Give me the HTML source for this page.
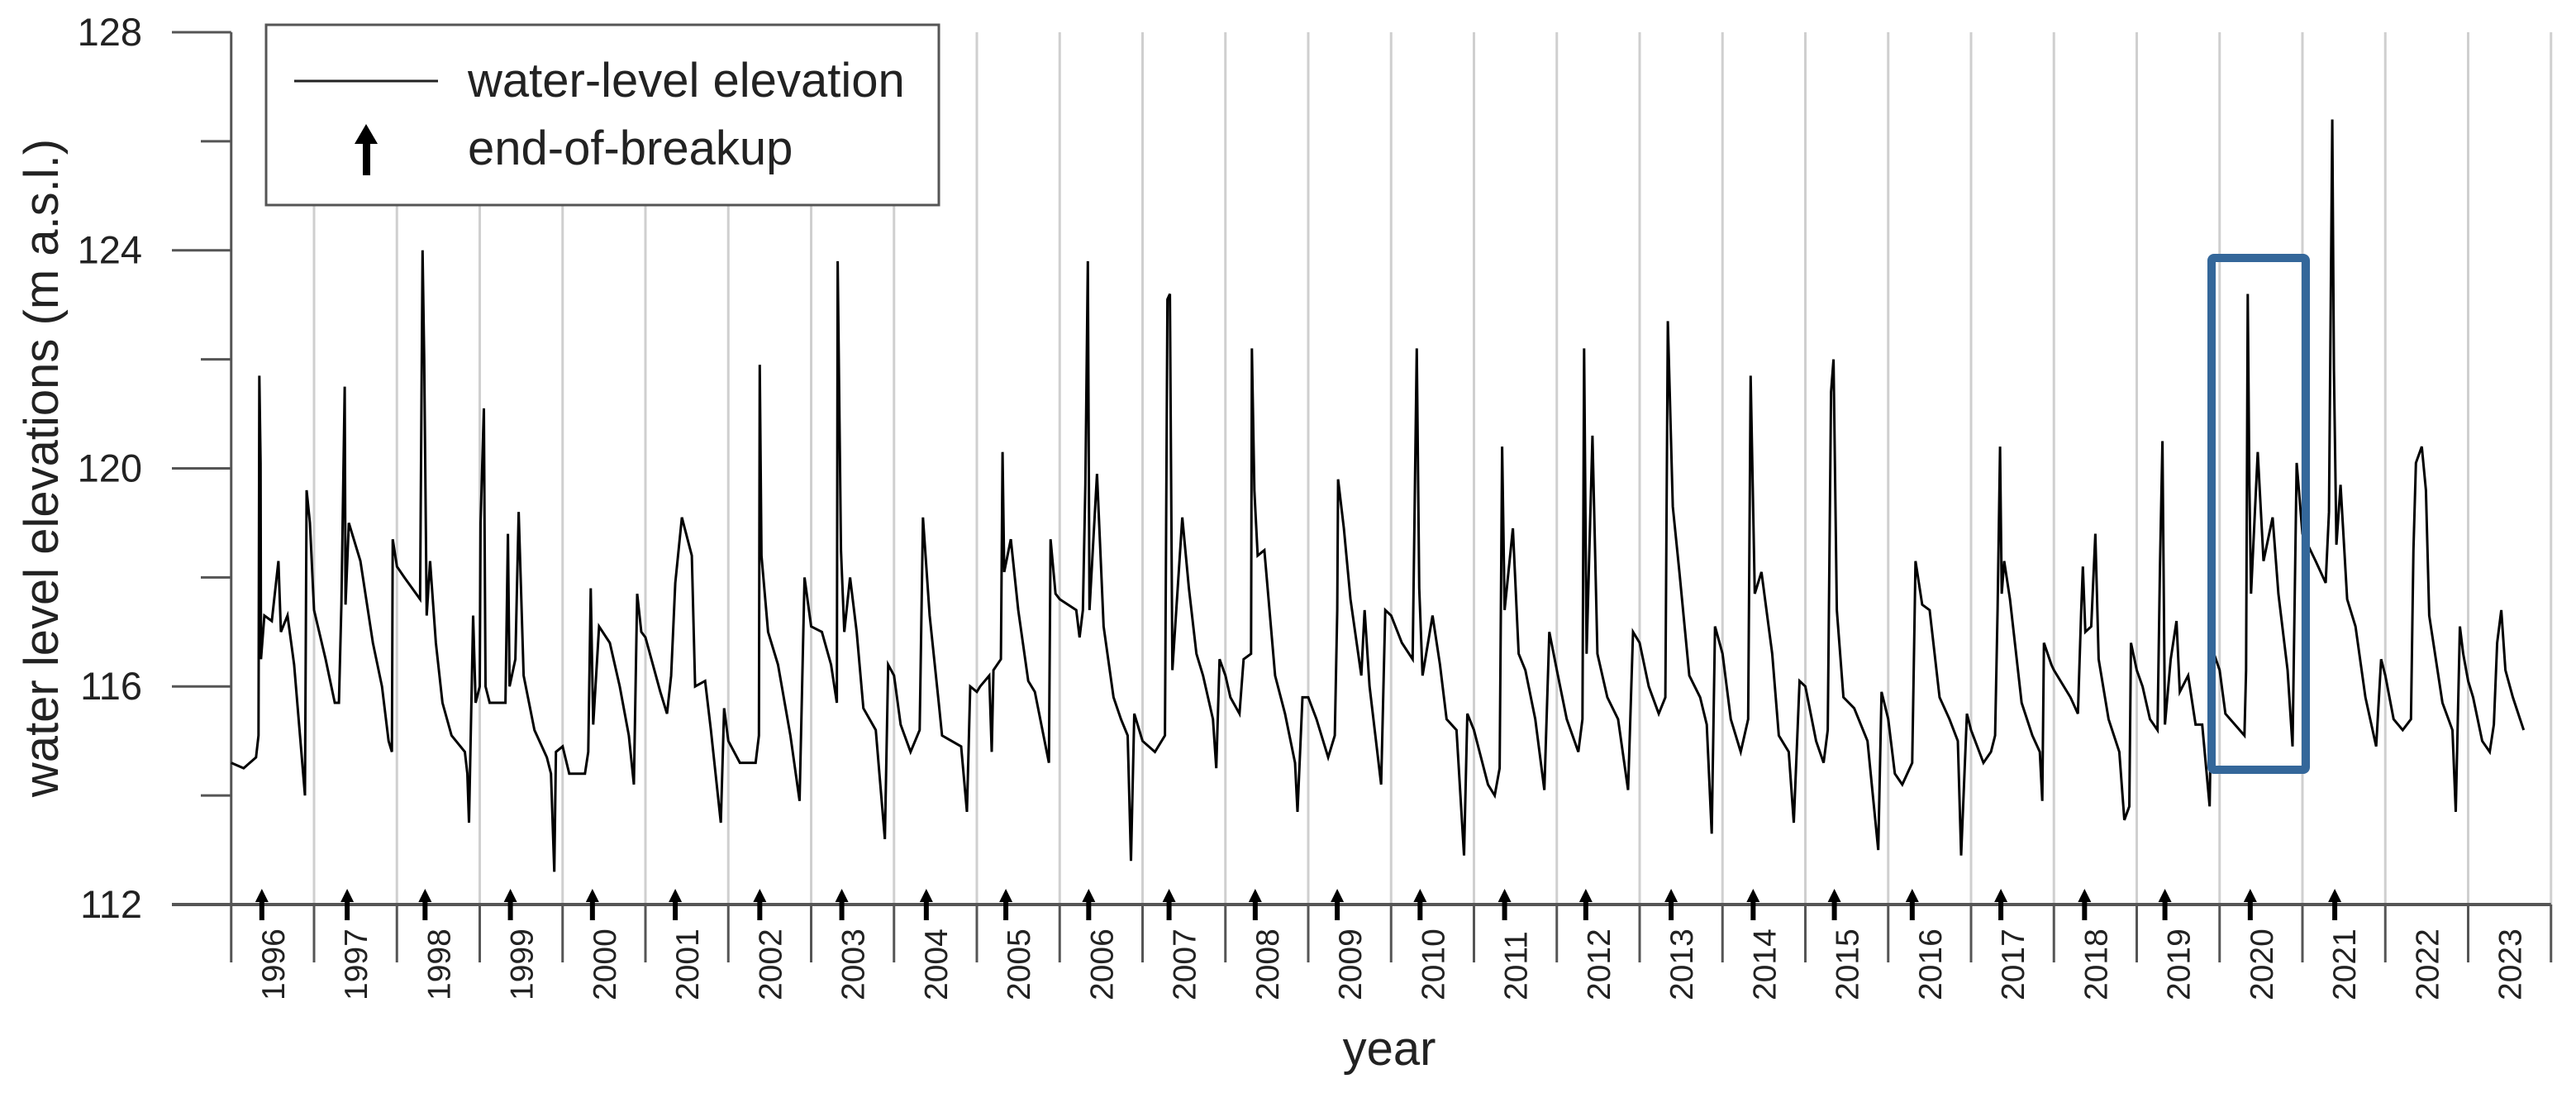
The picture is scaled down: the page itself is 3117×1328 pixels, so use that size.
<!DOCTYPE html>
<html><head><meta charset="utf-8"><style>
html,body{margin:0;padding:0;background:#fff;}
svg{display:block;font-family:"Liberation Sans",Arial,sans-serif;}
</style></head><body>
<svg id="chart" width="3117" height="1328" viewBox="0 0 3117 1328" xmlns="http://www.w3.org/2000/svg">
<g id="grid"></g>
<g id="axes"></g>
<g id="series"></g>
<g id="arrows"></g>
<rect x="2676" y="312" width="114" height="619" rx="3" fill="none" stroke="#34679a" stroke-width="10"/>
<g>
<rect x="322" y="30" width="814" height="218" fill="#fff" stroke="#555" stroke-width="3"/>
<line x1="356" y1="98" x2="530" y2="98" stroke="#222" stroke-width="3"/>
<text x="566" y="117" font-size="58" fill="#222">water-level elevation</text>
<g>
<rect x="439" y="168" width="9" height="44" fill="#000"/>
<polygon points="443,150 429,174 457,174" fill="#000"/>
</g>
<text x="566" y="199" font-size="58" fill="#222">end-of-breakup</text>
</g>
<text transform="translate(70,566) rotate(-90)" text-anchor="middle" font-size="58" fill="#222">water level elevations (m a.s.l.)</text>
<text x="1681" y="1288" text-anchor="middle" font-size="58" fill="#222">year</text>
</svg>
<script>
const yTicks = [112, 116, 120, 124, 128];
const yMinorTicks = [114, 118, 122, 126];
const yearLabels = [1996,1997,1998,1999,2000,2001,2002,2003,2004,2005,2006,2007,2008,2009,2010,2011,2012,2013,2014,2015,2016,2017,2018,2019,2020,2021,2022,2023];
const breakupDates = [1996.37,1997.4,1998.34,1999.37,2000.36,2001.36,2002.38,2003.37,2004.39,2005.35,2006.35,2007.32,2008.36,2009.35,2010.35,2011.37,2012.35,2013.38,2014.37,2015.35,2016.29,2017.36,2018.37,2019.34,2020.37,2021.39];
const obsFrac = [
[0,0.15,0.3,0.33,0.34,0.355,0.36,0.4,0.49,0.57,0.6,0.68,0.76,0.83,0.89,0.91,0.95],
[0,0.14,0.25,0.3,0.33,0.37,0.38,0.42,0.56,0.71,0.82,0.9,0.94,0.95],
[0,0.09,0.28,0.31,0.33,0.36,0.4,0.47,0.55,0.66,0.82,0.85,0.87,0.92,0.95],
[0,0.01,0.05,0.07,0.12,0.31,0.34,0.36,0.43,0.47,0.53,0.66,0.81,0.86,0.9,0.92],
[0,0.08,0.27,0.31,0.34,0.37,0.44,0.57,0.69,0.8,0.86,0.9,0.95],
[0,0.18,0.26,0.31,0.36,0.44,0.56,0.6,0.72,0.79,0.91,0.95],
[0,0.14,0.33,0.37,0.38,0.4,0.48,0.6,0.75,0.86,0.92],
[0,0.13,0.24,0.31,0.32,0.36,0.4,0.47,0.55,0.63,0.78,0.89,0.93],
[0,0.08,0.2,0.31,0.35,0.43,0.54,0.58,0.81,0.88,0.92],
[0,0.04,0.15,0.18,0.2,0.29,0.31,0.33,0.41,0.5,0.62,0.7,0.87,0.89,0.95],
[0,0.2,0.24,0.28,0.31,0.34,0.36,0.45,0.53,0.65,0.74,0.82,0.86,0.9],
[0,0.15,0.27,0.3,0.33,0.36,0.48,0.56,0.65,0.73,0.85,0.89,0.93],
[0,0.06,0.17,0.22,0.31,0.32,0.35,0.39,0.47,0.6,0.72,0.84,0.87,0.93],
[0,0.1,0.24,0.32,0.35,0.36,0.43,0.51,0.64,0.68,0.74,0.88,0.93],
[0,0.13,0.26,0.31,0.34,0.38,0.5,0.59,0.67,0.79,0.88,0.92],
[0,0.17,0.25,0.31,0.34,0.37,0.47,0.54,0.62,0.74,0.85,0.91],
[0,0.12,0.26,0.31,0.33,0.36,0.43,0.49,0.61,0.74,0.86,0.92],
[0,0.11,0.23,0.31,0.34,0.4,0.48,0.6,0.73,0.81,0.87,0.91],
[0,0.1,0.22,0.31,0.34,0.39,0.47,0.6,0.68,0.8,0.86,0.93],
[0,0.13,0.22,0.27,0.31,0.34,0.38,0.46,0.59,0.75,0.88,0.92],
[0,0.08,0.17,0.29,0.33,0.41,0.5,0.62,0.74,0.84,0.88,0.95],
[0,0.15,0.24,0.29,0.32,0.35,0.37,0.4,0.47,0.61,0.74,0.83,0.86,0.88,0.97],
[0,0.2,0.29,0.33,0.35,0.38,0.45,0.5,0.54,0.66,0.79,0.85,0.91,0.93],
[0,0.07,0.16,0.25,0.28,0.31,0.34,0.41,0.48,0.52,0.62,0.71,0.79,0.88,0.91],
[0,0.07,0.3,0.32,0.34,0.36,0.38,0.46,0.53,0.64,0.71,0.82,0.88,0.93],
[0,0.16,0.28,0.32,0.36,0.38,0.41,0.46,0.54,0.64,0.76,0.89,0.95],
[0,0.1,0.21,0.31,0.34,0.37,0.44,0.49,0.53,0.69,0.81,0.85,0.9,0.94],
[0,0.06,0.17,0.26,0.31,0.35,0.4,0.45,0.54,0.67]
];
const obsLevel = [
[114.6,114.5,114.7,115.1,121.7,120.1,116.5,117.3,117.2,118.3,117,117.3,116.4,115.1,114,119.6,119],
[117.4,116.5,115.7,115.7,117.5,121.5,117.5,119,118.3,116.8,116,115,114.8,118.7],
[118.2,118,117.6,124,122,117.3,118.3,116.8,115.7,115.1,114.8,114.4,113.5,117.3,115.7],
[116,119,121.1,116,115.7,115.7,118.8,116,116.5,119.2,116.2,115.2,114.7,114.4,112.6,114.8],
[114.9,114.4,114.4,114.8,117.8,115.3,117.1,116.8,116,115.1,114.2,117.7,117],
[116.9,115.9,115.5,116.2,117.9,119.1,118.4,116,116.1,115.2,113.5,115.6],
[115,114.6,114.6,115.1,121.9,118.4,117,116.4,115.1,113.9,118],
[117.1,117,116.4,115.7,123.8,118.5,117,118,117,115.6,115.2,113.2,116.4],
[116.2,115.3,114.8,115.2,119.1,117.3,115.7,115.1,114.9,113.7,116],
[115.9,116,116.2,114.8,116.3,116.5,120.3,118.1,118.7,117.4,116.1,115.9,114.6,118.7,117.7],
[117.6,117.4,116.9,117.4,119.7,123.8,117.4,119.9,117.1,115.8,115.4,115.1,112.8,115.5],
[115,114.8,115.1,123.1,123.2,116.3,119.1,117.8,116.6,116.2,115.4,114.5,116.5],
[116.2,115.8,115.5,116.5,116.6,122.2,119.6,118.4,118.5,116.2,115.5,114.6,113.7,115.8],
[115.8,115.4,114.7,115.1,117.4,119.8,118.9,117.6,116.2,117.4,116,114.2,117.4],
[117.3,116.8,116.5,122.2,117.8,116.2,117.3,116.4,115.4,115.2,112.9,115.5],
[115.2,114.2,114,114.5,120.4,117.4,118.9,116.6,116.3,115.4,114.1,117],
[116.3,115.4,114.8,115.4,122.2,116.6,120.6,116.6,115.8,115.4,114.1,117],
[116.8,116,115.5,115.8,122.7,119.3,118.1,116.2,115.8,115.3,113.3,117.1],
[116.6,115.4,114.8,115.4,121.7,117.7,118.1,116.6,115.1,114.8,113.5,116.1],
[116,115,114.6,115.2,121.4,122,117.4,115.8,115.6,115,113,115.9],
[115.4,114.4,114.2,114.6,118.3,117.5,117.4,115.8,115.4,115,112.9,115.5],
[115.2,114.6,114.8,115.1,117.4,120.4,117.7,118.3,117.6,115.7,115.1,114.8,113.9,116.8,116.4],
[116.3,115.8,115.5,117.4,118.2,117,117.1,118.8,116.5,115.4,114.8,113.55,113.8,116.8],
[116.3,116,115.4,115.2,118.2,120.5,115.3,116.5,117.2,115.9,116.2,115.3,115.3,113.8,116.7],
[116.3,115.5,115.1,116.3,123.2,119.7,117.7,120.3,118.3,119.1,117.7,116.3,114.9,120.1],
[118.8,118.3,117.9,119.2,126.4,121.8,118.6,119.7,117.6,117.1,115.8,114.9,116.5],
[116.2,115.4,115.2,115.4,118.5,120.1,120.4,119.6,117.3,115.7,115.2,113.7,117.1,116.6],
[116.1,115.8,115,114.8,115.3,116.8,117.4,116.3,115.8,115.2]
];

const NS = 'http://www.w3.org/2000/svg';
const X0 = 279.75, YW = 100.25, Y0 = 1094, YU = 65.94;
function xScale(yr){ return X0 + (yr - yearLabels[0]) * YW; }
function yScale(v){ return Y0 - (v - yTicks[0]) * YU; }
function mk(tag, attrs, parent){ const e = document.createElementNS(NS, tag); for (const k in attrs) e.setAttribute(k, attrs[k]); parent.appendChild(e); return e; }

const grid = document.getElementById('grid');
const axes = document.getElementById('axes');
const yTop = yScale(yTicks[yTicks.length-1]);
const lastYear = yearLabels[yearLabels.length-1] + 1;

for (let yr = yearLabels[0]; yr <= lastYear; yr++) {
  const x = xScale(yr);
  if (yr > yearLabels[0]) {
    const g = mk('line', {x1:x, y1:yTop, x2:x, y2:Y0, stroke:'#cfcfcf', 'stroke-width':3}, grid);
    
    
  }
  const t = mk('line', {x1:x, y1:Y0, x2:x, y2:1164, stroke:'#555', 'stroke-width':3}, axes);
  
  
}
const yl = mk('line', {x1:X0, y1:yTop, x2:X0, y2:Y0, stroke:'#555', 'stroke-width':3}, axes);


const xl = mk('line', {x1:208, y1:Y0, x2:xScale(lastYear), y2:Y0, stroke:'#555', 'stroke-width':4}, axes);


yTicks.forEach(v => {
  const y = yScale(v);
  const l = mk('line', {x1:208, y1:y, x2:X0, y2:y, stroke:'#555', 'stroke-width':3}, axes);
  
  
  const t = mk('text', {x:172, y:y+16, 'text-anchor':'end', 'font-size':47, fill:'#222'}, axes);
  t.textContent = v;
  
  
});
yMinorTicks.forEach(v => {
  const y = yScale(v);
  const l = mk('line', {x1:243, y1:y, x2:X0, y2:y, stroke:'#555', 'stroke-width':3}, axes);
  
  
});
yearLabels.forEach(yr => {
  const cx = xScale(yr + 0.5);
  const t = mk('text', {transform:'translate(' + (cx+14) + ',1210) rotate(-90)', 'font-size':39, fill:'#222'}, axes);
  t.textContent = yr;
  
  
});
let d = '';
yearLabels.forEach((yr, i) => {
  obsFrac[i].forEach((f, j) => {
    d += (d ? 'L' : 'M') + xScale(yr + f).toFixed(1) + ',' + yScale(obsLevel[i][j]).toFixed(1);
  });
});
const path = mk('path', {d:d, fill:'none', stroke:'#000', 'stroke-width':3, 'stroke-linejoin':'miter'}, document.getElementById('series'));


const arrows = document.getElementById('arrows');
breakupDates.forEach(dt => {
  const x = xScale(dt);
  const g = mk('g', {}, arrows);
  
  
  mk('rect', {x:x-3, y:1086, width:6, height:27, fill:'#000'}, g);
  mk('polygon', {points:(x)+',1075 '+(x-8)+',1091 '+(x+8)+',1091', fill:'#000'}, g);
});
</script>
</body></html>
